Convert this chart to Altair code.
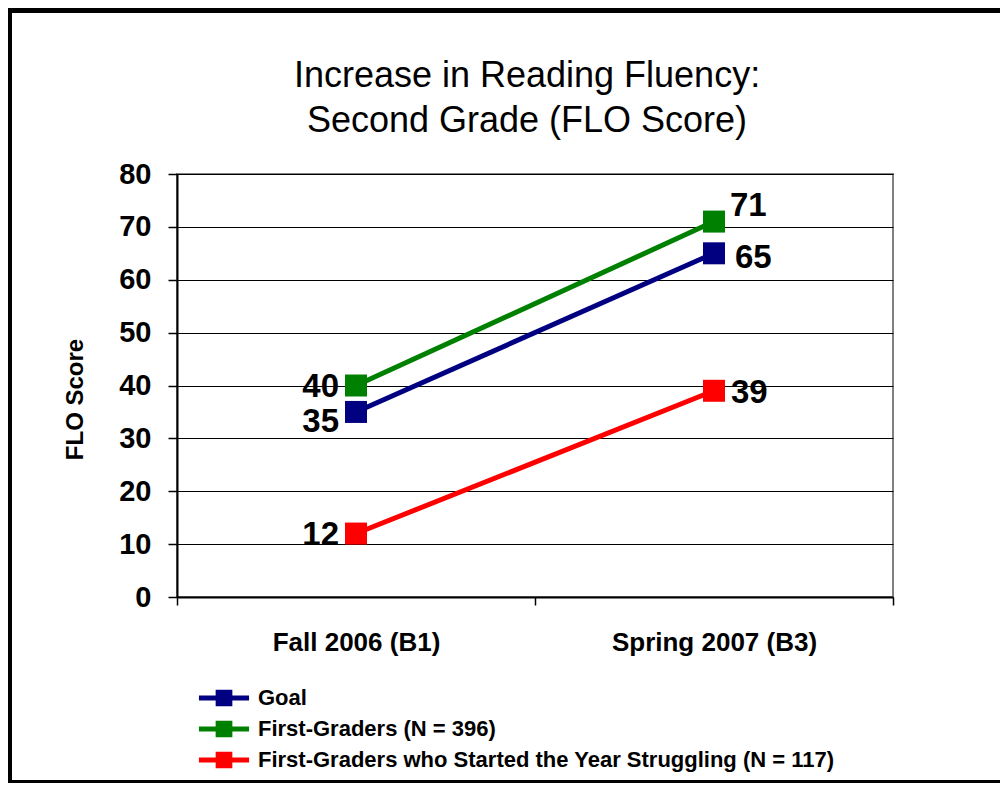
import altair as alt
import pandas as pd

# ---- data ----
periods = ["Fall 2006 (B1)", "Spring 2007 (B3)"]
series_names = [
    "Goal",
    "First-Graders (N = 396)",
    "First-Graders who Started the Year Struggling (N = 117)",
]
goal_values = [35, 65]
first_graders_values = [40, 71]
struggling_values = [12, 39]
y_ticks = [0, 10, 20, 30, 40, 50, 60, 70, 80]
series_colors = ["#000080", "#008000", "#FF0000"]

rows = []
for name, vals in zip(series_names, [goal_values, first_graders_values, struggling_values]):
    for p, v in zip(periods, vals):
        rows.append({"period": p, "series": name, "score": v})
df = pd.DataFrame(rows)

FONT = "Liberation Sans"

x_enc = alt.X(
    "period:N",
    sort=periods,
    scale=alt.Scale(domain=periods, paddingInner=0, paddingOuter=0),
    axis=alt.Axis(
        title=None,
        labelAngle=0,
        labelFont=FONT,
        labelFontSize=26,
        labelFontWeight="bold",
        labelColor="black",
        labelPadding=24,
        labelLimit=500,
        tickBand="extent",
        tickSize=8,
        tickColor="black",
        tickWidth=1.5,
        domainColor="black",
        domainWidth=2,
        grid=False,
    ),
)
y_enc = alt.Y(
    "score:Q",
    scale=alt.Scale(domain=[0, 80], nice=False, zero=True),
    axis=alt.Axis(
        values=y_ticks,
        title="FLO Score",
        titleFont=FONT,
        titleFontSize=24,
        titleFontWeight="bold",
        titleColor="black",
        titleX=-102,
        titleY=225,
        titleAlign="center",
        titleBaseline="middle",
        labelFont=FONT,
        labelFontSize=29,
        labelFontWeight="bold",
        labelColor="black",
        labelPadding=17,
        tickSize=9,
        tickColor="black",
        tickWidth=1.5,
        domainColor="black",
        domainWidth=2,
        grid=True,
        gridColor="black",
        gridWidth=1.2,
    ),
)
color_scale = alt.Scale(domain=series_names, range=series_colors)

legend_path = "M-3,-0.3H3V0.3H-3Z M-1,-1H1V1H-1Z"


def make_legend():
    return alt.Legend(
        title=None,
        orient="none",
        legendX=36,
        legendY=513,
        direction="vertical",
        symbolType=legend_path,
        symbolSize=279,
        symbolStrokeWidth=0,
        symbolOpacity=1,
        labelFont=FONT,
        labelFontSize=22,
        labelFontWeight="bold",
        labelColor="black",
        labelOffset=23,
        labelLimit=800,
        rowPadding=9,
        padding=0,
    )


base = alt.Chart(df)

lines = base.mark_line(strokeWidth=5).encode(
    x=x_enc,
    y=y_enc,
    stroke=alt.Stroke("series:N", scale=color_scale, sort=series_names, legend=make_legend()),
    detail="series:N",
)

points = base.mark_point(shape="square", filled=True, size=484, opacity=1).encode(
    x=x_enc,
    y=y_enc,
    fill=alt.Fill("series:N", scale=color_scale, sort=series_names, legend=make_legend()),
)

label_common = dict(font=FONT, fontSize=33, fontWeight="bold", color="black", baseline="middle")

fall_labels = base.transform_filter(
    (alt.datum.period == periods[0]) & (alt.datum.series != series_names[0])
).mark_text(align="right", dx=-17, dy=1, **label_common).encode(
    x=x_enc, y=y_enc, text="score:Q"
)
fall_goal_label = base.transform_filter(
    (alt.datum.period == periods[0]) & (alt.datum.series == series_names[0])
).mark_text(align="right", dx=-17, dy=10, **label_common).encode(
    x=x_enc, y=y_enc, text="score:Q"
)
spring_top_label = base.transform_filter(
    (alt.datum.period == periods[1]) & (alt.datum.series == series_names[1])
).mark_text(align="left", dx=16, dy=-16, **label_common).encode(
    x=x_enc, y=y_enc, text="score:Q"
)
spring_goal_label = base.transform_filter(
    (alt.datum.period == periods[1]) & (alt.datum.series == series_names[0])
).mark_text(align="left", dx=21, dy=5, **label_common).encode(
    x=x_enc, y=y_enc, text="score:Q"
)
spring_low_label = base.transform_filter(
    (alt.datum.period == periods[1]) & (alt.datum.series == series_names[2])
).mark_text(align="left", dx=17, dy=2, **label_common).encode(
    x=x_enc, y=y_enc, text="score:Q"
)

# decorative black frame around the picture
frame_top = base.mark_rect(color="black").encode(
    x=alt.value(-169), x2=alt.value(823), y=alt.value(-166), y2=alt.value(-161)
)
frame_left = base.mark_rect(color="black").encode(
    x=alt.value(-169), x2=alt.value(-165), y=alt.value(-166), y2=alt.value(609)
)
frame_bottom = base.mark_rect(color="black").encode(
    x=alt.value(-169), x2=alt.value(823), y=alt.value(606), y2=alt.value(609)
)

chart = alt.layer(
    lines,
    points,
    fall_labels,
    fall_goal_label,
    spring_top_label,
    spring_goal_label,
    spring_low_label,
    frame_top,
    frame_left,
    frame_bottom,
).properties(
    width=716,
    height=423,
    autosize=alt.AutoSizeParams(type="none"),
    padding={"left": 169, "top": 166, "right": 107, "bottom": 186},
    background="white",
    title=alt.TitleParams(
        text=["Increase in Reading Fluency:", "Second Grade (FLO Score)"],
        font=FONT,
        fontSize=36,
        fontWeight="normal",
        color="black",
        anchor="middle",
        frame="group",
        lineHeight=45,
        baseline="top",
        dx=-8,
        dy=132,
        offset=0,
    ),
).configure_view(
    stroke="#808080", strokeWidth=2
)

chart.save("out.html", embed_options={"renderer": "svg", "actions": False})
